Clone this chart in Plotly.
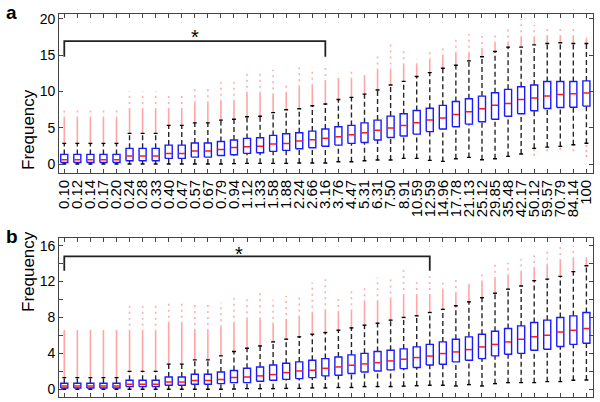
import plotly.graph_objects as go

categories = ["0.10", "0.12", "0.14", "0.17", "0.20", "0.24", "0.28", "0.33", "0.40", "0.47",
              "0.57", "0.67", "0.79", "0.94", "1.12", "1.33", "1.58", "1.88", "2.24", "2.66",
              "3.16", "3.76", "4.47", "5.31", "6.31", "7.50", "8.91", "10.59", "12.59", "14.96",
              "17.78", "21.13", "25.12", "29.85", "35.48", "42.17", "50.12", "59.57", "70.79", "84.14", "100"]

# ---- panel a ----
a_low = [0.05]*13 + [0.1, 0.14, 0.14, 0.14, 0.14, 0.2, 0.2, 0.2, 0.37, 0.37, 0.5, 0.6, 0.6, 0.82, 0.82,
                     0.55, 0.41, 0.78, 0.96, 0.64, 0.78, 1.1, 1.42, 2.2, 2.37, 2.47, 2.7, 2.9]
a_q1 = [0.27]*5 + [0.5]*3 + [0.82]*2 + [1.0]*2 + [1.23, 1.33, 1.51, 1.6, 1.78, 1.92, 2.15, 2.29, 2.5, 2.65,
                                                   2.88, 3.0, 3.34, 3.7, 3.9, 4.16, 4.5, 4.85, 5.17, 5.53, 5.85,
                                                   6.2, 6.6, 6.95, 7.36, 7.67, 7.8, 7.85, 8.0]
a_med = [0.62]*5 + [1.14]*3 + [1.5]*2 + [1.83]*2 + [2.06, 2.33, 2.42, 2.5, 2.79, 2.88, 3.2, 3.38, 3.6, 3.8,
                                                    4.07, 4.34, 4.7, 5.0, 5.35, 5.7, 6.08, 6.35, 6.86, 7.22, 7.64,
                                                    8.1, 8.37, 8.9, 9.1, 9.4, 9.6, 9.68, 9.8]
a_q3 = [1.37]*5 + [2.2]*3 + [2.65]*2 + [2.93]*2 + [3.15, 3.34, 3.57, 3.66, 3.98, 4.2, 4.34, 4.57, 4.85, 5.17,
                                                   5.35, 5.7, 6.08, 6.63, 6.95, 7.4, 7.7, 8.1, 8.64, 9.0, 9.37,
                                                   9.83, 10.3, 10.65, 10.9, 11.37, 11.37, 11.37, 11.46]
a_high = [2.88]*5 + [4.25]*3 + [5.35]*2 + [5.7]*2 + [6.08, 6.2, 6.54, 6.6, 7.1, 7.5, 7.64, 8.05, 8.28, 8.9,
                                                    9.2, 9.65, 10.2, 10.9, 11.4, 12.07, 12.6, 13.2, 13.6, 14.2, 14.77,
                                                    15.5, 16.1, 16.1, 16.4, 16.6, 16.7, 16.6, 16.6]
a_dense = [6.3]*5 + [7.45]*3 + [7.45]*2 + [8.4]*2 + [8.6, 8.6, 9.7, 9.7, 9.5, 9.7, 10.6, 10.8, 11.3, 11.6,
                                                    11.6, 12.0, 12.9, 12.9, 13.6, 13.6, 14.3, 14.8, 15.2, 15.2, 15.7,
                                                    16.6, 16.6, 17.3, 17.3, 17.5, 17.5, 17.5, 17.1]
a_out_max = [7.8]*5 + [10.0]*3 + [9.8]*2 + [10.7]*2 + [11.3, 11.3, 12.6, 12.7, 13.0, 11.3, 13.3, 13.3, 13.6, 12.5,
                                                       13.3, 12.7, 14.8, 16.8, 15.9, 14.5, 15.8, 15.9, 17.5, 17.9, 18.0,
                                                       17.9, 19.0, 20.0, 19.1, 19.1, 18.9, 19.1, 17.5]
a_out_min = [None]*36 + [1.2, 1.8, 2.0, 1.8, 1.0]

# ---- panel b ----
b_low = [0.0]*13 + [0.04, 0.07, 0.07, 0.07, 0.1, 0.1, 0.15, 0.15, 0.2, 0.2, 0.3, 0.3, 0.3, 0.35, 0.4,
                    0.45, 0.45, 0.37, 0.52, 0.37, 0.63, 0.74, 0.74, 0.74, 0.85, 0.85, 1.0, 1.04]
b_q1 = [0.15]*5 + [0.3]*3 + [0.45]*2 + [0.56]*2 + [0.63, 0.74, 0.74, 0.89, 1.0, 1.1, 1.19, 1.3, 1.49, 1.56,
                                                   1.75, 1.93, 2.04, 2.16, 2.3, 2.42, 2.7, 2.79, 3.05, 3.23, 3.42,
                                                   3.72, 3.9, 4.0, 4.35, 4.46, 4.76, 5.0, 5.13]
b_med = [0.37]*5 + [0.56]*3 + [0.82]*2 + [0.97]*2 + [1.1, 1.3, 1.38, 1.49, 1.64, 1.86, 2.04, 2.12, 2.34, 2.49,
                                                    2.68, 2.83, 2.97, 3.16, 3.35, 3.53, 3.7, 3.98, 4.16, 4.42, 4.72,
                                                    5.0, 5.28, 5.58, 5.84, 6.02, 6.39, 6.58, 6.77]
b_q3 = [0.67]*5 + [1.0]*3 + [1.37]*2 + [1.67]*2 + [1.93, 2.1, 2.34, 2.49, 2.71, 2.9, 3.05, 3.23, 3.42, 3.6,
                                                   3.83, 4.0, 4.2, 4.35, 4.5, 4.72, 5.0, 5.28, 5.58, 5.84, 6.13,
                                                   6.47, 6.77, 7.06, 7.43, 7.7, 8.0, 8.18, 8.55]
b_high = [1.3]*5 + [2.0]*3 + [2.8]*2 + [3.27]*2 + [3.72, 4.2, 4.57, 4.83, 5.28, 5.58, 5.84, 6.13, 6.32, 6.58,
                                                   6.84, 7.14, 7.36, 7.7, 8.0, 8.18, 8.55, 8.9, 9.3, 9.74, 10.2,
                                                   10.7, 11.15, 11.5, 12.1, 12.27, 12.57, 13.1, 13.75]
b_dense = [6.6]*5 + [6.4]*3 + [7.3]*2 + [6.5]*2 + [6.9, 7.3, 7.8, 7.8, 7.2, 7.6, 8.0, 8.4, 8.7, 8.5,
                                                   8.7, 9.7, 9.7, 10.0, 10.4, 10.4, 10.4, 11.0, 10.6, 11.5, 11.9,
                                                   12.3, 12.6, 13.0, 13.4, 13.75, 14.3, 14.5, 14.5]
b_out_max = [6.6]*5 + [9.7]*3 + [9.7]*2 + [9.74]*2 + [9.67, 10.2, 10.1, 10.7, 9.96, 10.4, 10.3, 11.9, 12.6, 10.2,
                                                      11.0, 11.7, 12.45, 12.45, 13.4, 12.3, 12.6, 12.1, 12.3, 11.9, 12.8,
                                                      13.9, 14.1, 14.5, 14.9, 15.6, 16.0, 15.9, 14.7]
b_out_min = [None]*41

# significance brackets: (first category, last category, bar height, leg bottom, star y, star x)
bracket_a = ("0.10", "3.16", 16.93, 14.77, 15.7, 11.0)
bracket_b = ("0.10", "12.59", 14.8, 13.2, 13.6, 14.4)

positions = list(range(1, len(categories) + 1))
BOX_HW = 0.27
CAP_HW = 0.15


def vsegs(xs, y0, y1):
    X, Y = [], []
    for x, a, b in zip(xs, y0, y1):
        if a is None or b is None:
            continue
        X += [x, x, None]
        Y += [a, b, None]
    return X, Y


def hsegs(xs, ys, hw):
    X, Y = [], []
    for x, y in zip(xs, ys):
        X += [x - hw, x + hw, None]
        Y += [y, y, None]
    return X, Y


def rects(xs, lo, hi, hw):
    X, Y = [], []
    for x, a, b in zip(xs, lo, hi):
        X += [x - hw, x + hw, x + hw, x - hw, x - hw, None]
        Y += [a, a, b, b, a, None]
    return X, Y


fig = go.Figure()


def add_panel(xa, ya, low, q1, med, q3, high, dense, omax, omin):
    X, Y = vsegs(positions, high, dense)
    fig.add_trace(go.Scatter(x=X, y=Y, mode="lines", xaxis=xa, yaxis=ya, hoverinfo="skip",
                             line=dict(color="rgba(255,40,40,0.42)", width=1.6)))
    X, Y = vsegs(positions, dense, omax)
    fig.add_trace(go.Scatter(x=X, y=Y, mode="lines", xaxis=xa, yaxis=ya, hoverinfo="skip",
                             line=dict(color="rgba(255,40,40,0.38)", width=1.6, dash="2px,4px")))
    X, Y = vsegs(positions, omin, low)
    fig.add_trace(go.Scatter(x=X, y=Y, mode="lines", xaxis=xa, yaxis=ya, hoverinfo="skip",
                             line=dict(color="rgba(255,40,40,0.42)", width=1.6, dash="2px,3px")))
    X1, Y1 = vsegs(positions, q3, high)
    X2, Y2 = vsegs(positions, low, q1)
    fig.add_trace(go.Scatter(x=X1 + X2, y=Y1 + Y2, mode="lines", xaxis=xa, yaxis=ya, hoverinfo="skip",
                             line=dict(color="rgba(0,0,0,0.85)", width=1.4, dash="5px,3px")))
    X1, Y1 = hsegs(positions, high, CAP_HW)
    X2, Y2 = hsegs(positions, low, CAP_HW)
    fig.add_trace(go.Scatter(x=X1 + X2, y=Y1 + Y2, mode="lines", xaxis=xa, yaxis=ya, hoverinfo="skip",
                             line=dict(color="black", width=1.4)))
    X, Y = rects(positions, q1, q3, BOX_HW)
    fig.add_trace(go.Scatter(x=X, y=Y, mode="lines", xaxis=xa, yaxis=ya, hoverinfo="skip",
                             line=dict(color="#1a1aff", width=1.4)))
    X, Y = hsegs(positions, med, BOX_HW - 0.03)
    fig.add_trace(go.Scatter(x=X, y=Y, mode="lines", xaxis=xa, yaxis=ya, hoverinfo="skip",
                             line=dict(color="#ff1a1a", width=1.5)))


def add_bracket(xa, ya, br):
    x0 = categories.index(br[0]) + 1
    x1 = categories.index(br[1]) + 1
    fig.add_trace(go.Scatter(x=[x0, x0, x1, x1], y=[br[3], br[2], br[2], br[3]], mode="lines",
                             xaxis=xa, yaxis=ya, hoverinfo="skip",
                             line=dict(color="#222222", width=1.8)))


add_panel("x", "y", a_low, a_q1, a_med, a_q3, a_high, a_dense, a_out_max, a_out_min)
add_panel("x2", "y2", b_low, b_q1, b_med, b_q3, b_high, b_dense, b_out_max, b_out_min)
add_bracket("x", "y", bracket_a)
add_bracket("x2", "y2", bracket_b)

FONT = "Liberation Sans, Arial, Helvetica, sans-serif"
axis_common = dict(showline=True, linecolor="#444444", linewidth=1.2, mirror="ticks", ticks="inside",
                   ticklen=4, tickcolor="#444444", tickwidth=1, showgrid=False, zeroline=False,
                   automargin=False)
XDOM = [0.0988, 0.988]
XRANGE = [0.617, 41.49]

fig.update_layout(
    width=600, height=402, margin=dict(l=0, r=0, t=0, b=0, autoexpand=False),
    paper_bgcolor="white", plot_bgcolor="white", showlegend=False,
    font=dict(family=FONT, color="black"),
    xaxis=dict(domain=XDOM, anchor="y", range=XRANGE, tickmode="array", tickvals=positions,
               ticktext=categories, tickangle=-90, tickfont=dict(size=15), **axis_common),
    yaxis=dict(domain=[0.5704, 0.965], anchor="x", range=[-1.14, 20.63], tickmode="array",
               tickvals=[0, 5, 10, 15, 20], tickfont=dict(size=14), **axis_common),
    xaxis2=dict(domain=XDOM, anchor="y2", range=XRANGE, tickmode="array", tickvals=positions,
                showticklabels=False, **axis_common),
    yaxis2=dict(domain=[0.0124, 0.408], anchor="x2", range=[-0.86, 16.85], tickmode="array",
                tickvals=[0, 2, 4, 6, 8, 10, 12, 14, 16],
                ticktext=["0", "", "4", "", "8", "", "12", "", "16"], tickfont=dict(size=14), **axis_common),
)

anns = [
    dict(text="<b>a</b>", x=0.006, y=1.0, xref="paper", yref="paper", xanchor="left", yanchor="top",
         showarrow=False, font=dict(size=19)),
    dict(text="<b>b</b>", x=0.006, y=1 - 224 / 402, xref="paper", yref="paper", xanchor="left", yanchor="top",
         showarrow=False, font=dict(size=19)),
    dict(text="Frequency", x=17 / 600, y=1 - 87 / 402, xref="paper", yref="paper", textangle=-90,
         showarrow=False, font=dict(size=17)),
    dict(text="Frequency", x=17 / 600, y=1 - 314 / 402, xref="paper", yref="paper", textangle=-90,
         showarrow=False, font=dict(size=17)),
    dict(text="*", x=bracket_a[5], y=bracket_a[4], xref="x", yref="y", showarrow=False,
         yanchor="bottom", font=dict(size=20)),
    dict(text="*", x=bracket_b[5], y=bracket_b[4], xref="x2", yref="y2", showarrow=False,
         yanchor="bottom", font=dict(size=20)),
]
fig.update_layout(annotations=anns)

fig.write_html("out.html", config={"displayModeBar": False},
               post_script="document.body.style.margin='0';document.body.style.overflow='hidden';")
